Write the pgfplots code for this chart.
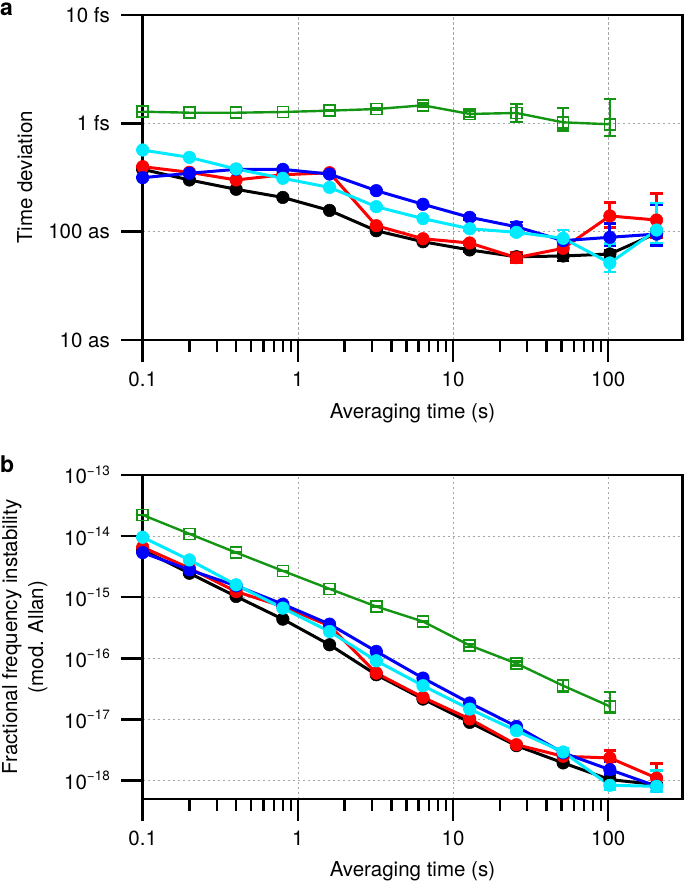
\documentclass[border=0pt]{standalone}
\usepackage{fontspec}
\setmainfont{TeX Gyre Heros}
\usepackage{pgfplots}
\usepackage{pgfplotstable}
\pgfplotsset{compat=1.18}

\definecolor{cblack}{RGB}{0,0,0}
\definecolor{cred}{RGB}{255,0,0}
\definecolor{cblue}{RGB}{0,0,255}
\definecolor{ccyan}{RGB}{0,235,255}
\definecolor{cgreen}{RGB}{20,150,20}

\newcommand\ep[1]{10\raisebox{8.5pt}{\fontsize{13.5}{13.5}\selectfont −#1}}

% ---------- panel a (values in attoseconds) ----------
\pgfplotstableread{
t v ep em
0.1 376 0 0
0.2 300 0 0
0.4 246 0 0
0.8 207 0 0
1.6 157 0 0
3.2 102 0 0
6.4 80.7 0 0
12.8 67.8 2 2
25.6 58.7 3 3
51.2 59.6 4 6
102.4 62.2 5 5
204.8 96.6 8 8
}\aBlack
\pgfplotstableread{
t v ep em
0.1 398 0 0
0.2 353 0 0
0.4 300 0 0
0.8 335 0 0
1.6 350 0 0
3.2 113.5 0 0
6.4 86 0 0
12.8 78.6 2 2
25.6 57.5 7 6
51.2 70.2 5 5
102.4 139.6 45 30
204.8 128 98 40
}\aRed
\pgfplotstableread{
t v ep em
0.1 315 0 0
0.2 346 0 0
0.4 376 0 0
0.8 376 0 0
1.6 340 0 0
3.2 239 0 0
6.4 179 0 0
12.8 135.6 6 6
25.6 111 12 10
51.2 82.6 21 10
102.4 88.7 31 15
204.8 95 81 20
}\aBlue
\pgfplotstableread{
t v ep em
0.1 567 0 0
0.2 485 0 0
0.4 379 0 0
0.8 311 0 0
1.6 256 0 0
3.2 170 0 0
6.4 132 0 0
12.8 106.4 3 3
25.6 98.6 5 5
51.2 86.8 17 17
102.4 51.4 27 9
204.8 103.5 80 25
}\aCyan
\pgfplotstableread{
t v ep em
0.1 1280 0 0
0.2 1253 0 0
0.4 1253 0 0
0.8 1272 0 0
1.6 1309 0 0
3.2 1355 30 30
6.4 1466 60 60
12.8 1220 89 82
25.6 1246 262 211
51.2 1021 356 166
102.4 980 694 216
}\aGreen

% ---------- panel b ----------
\pgfplotstableread{
t v ep em
0.1 5.95e-15 0 0
0.2 2.47e-15 0 0
0.4 1.03e-15 0 0
0.8 4.38e-16 0 0
1.6 1.67e-16 0 0
3.2 5.4e-17 0 0
6.4 2.16e-17 0 0
12.8 8.97e-18 0 0
25.6 3.73e-18 0 0
51.2 1.95e-18 0.15e-18 0.15e-18
102.4 1.04e-18 0.05e-18 0.05e-18
204.8 8.6e-19 0.05e-18 0.05e-18
}\bBlack
\pgfplotstableread{
t v ep em
0.1 6.58e-15 0 0
0.2 2.99e-15 0 0
0.4 1.24e-15 0 0
0.8 7.06e-16 0 0
1.6 3.41e-16 0 0
3.2 5.74e-17 0 0
6.4 2.30e-17 0 0
12.8 1.02e-17 0 0
25.6 3.87e-18 0 0
51.2 2.50e-18 0.1e-18 0.1e-18
102.4 2.35e-18 0.74e-18 0.3e-18
204.8 1.1e-18 0.8e-18 0.3e-18
}\bRed
\pgfplotstableread{
t v ep em
0.1 5.38e-15 0 0
0.2 2.80e-15 0 0
0.4 1.54e-15 0 0
0.8 7.7e-16 0 0
1.6 3.63e-16 0 0
3.2 1.30e-16 0 0
6.4 4.76e-17 0 0
12.8 1.86e-17 0 0
25.6 7.71e-18 0 0
51.2 2.84e-18 0.1e-18 0.1e-18
102.4 1.51e-18 0.5e-18 0.25e-18
204.8 8.1e-19 0.3e-18 0.15e-18
}\bBlue
\pgfplotstableread{
t v ep em
0.1 9.6e-15 0 0
0.2 4.08e-15 0 0
0.4 1.60e-15 0 0
0.8 6.64e-16 0 0
1.6 2.75e-16 0 0
3.2 9.14e-17 0 0
6.4 3.57e-17 0 0
12.8 1.48e-17 0 0
25.6 6.56e-18 0 0
51.2 2.94e-18 0.4e-18 0.4e-18
102.4 8.38e-19 0.12e-18 0.12e-18
204.8 8.07e-19 0.65e-18 0.14e-18
}\bCyan
\pgfplotstableread{
t v ep em
0.1 2.22e-14 0 0
0.2 1.09e-14 0 0
0.4 5.38e-15 0 0
0.8 2.70e-15 0 0
1.6 1.37e-15 0 0
3.2 7.06e-16 0 0
6.4 4.01e-16 0 0
12.8 1.63e-16 0.1e-16 0.1e-16
25.6 8.26e-17 0.6e-17 0.6e-17
51.2 3.57e-17 0.9e-17 0.69e-17
102.4 1.64e-17 1.17e-17 0.36e-17
}\bGreen

\pgfplotsset{
  ser/.style={line width=3pt, color=#1, mark=*, mark size=6.3pt,
    mark options={solid, fill=#1, draw=#1, line width=0.5pt},
    error bars/y dir=both, error bars/y explicit,
    error bars/error bar style={line width=2.8pt, solid, color=#1},
    error bars/error mark options={rotate=90, line width=2.8pt, mark size=6.3pt, color=#1}},
  gser/.style={line width=2.4pt, color=cgreen, mark=square, mark size=5.5pt,
    mark options={solid, draw=cgreen, line width=1.6pt},
    error bars/y dir=both, error bars/y explicit,
    error bars/error bar style={line width=2.4pt, solid, color=cgreen},
    error bars/error mark options={rotate=90, line width=2.4pt, mark size=6.3pt, color=cgreen}},
}

\begin{document}
\begin{tikzpicture}
\useasboundingbox (0pt,0pt) rectangle (685pt,883pt);

\begin{axis}[xmode=log, ymode=log, scale only axis,
    width=539.6pt, height=325pt,
    at={(142.7pt,543pt)}, anchor=south west,
    xmin=0.1, xmax=300,
    xtick={0.1,1,10,100}, xticklabels={0.1,1,10,100},
    yminorticks=false,
    tick align=outside, tick pos=left,
    major tick length=22pt, minor tick length=12pt,
    tick style={black, line width=2.4pt},
    axis line style={line width=2.7pt},
    grid=major,
    major grid style={dash pattern=on 2.5pt off 2.5pt, line width=0.7pt, color=black!35},
    tick label style={font=\fontsize{20.5}{24}\selectfont},
    xticklabel style={anchor=base, yshift=-24.7pt, inner sep=0pt},
    yticklabel style={anchor=east, xshift=-10.7pt, inner sep=0pt},
    clip=false,
  ymin=10, ymax=10000,
  ytick={10,100,1000,10000}, yticklabels={10 as,100 as,1 fs,10 fs}]
\addplot[ser=cblack] table[x=t,y=v,y error plus=ep,y error minus=em]{\aBlack};
\addplot[ser=cred] table[x=t,y=v,y error plus=ep,y error minus=em]{\aRed};
\addplot[ser=cblue] table[x=t,y=v,y error plus=ep,y error minus=em]{\aBlue};
\addplot[ser=ccyan] table[x=t,y=v,y error plus=ep,y error minus=em]{\aCyan};
\addplot[gser] table[x=t,y=v,y error plus=ep,y error minus=em]{\aGreen};
\end{axis}

\begin{axis}[xmode=log, ymode=log, scale only axis,
    width=539.6pt, height=324pt,
    at={(142.7pt,84pt)}, anchor=south west,
    xmin=0.1, xmax=300,
    xtick={0.1,1,10,100}, xticklabels={0.1,1,10,100},
    yminorticks=false,
    tick align=outside, tick pos=left,
    major tick length=22pt, minor tick length=12pt,
    tick style={black, line width=2.4pt},
    axis line style={line width=2.7pt},
    grid=major,
    major grid style={dash pattern=on 2.5pt off 2.5pt, line width=0.7pt, color=black!35},
    tick label style={font=\fontsize{20.5}{24}\selectfont},
    xticklabel style={anchor=base, yshift=-24.7pt, inner sep=0pt},
    yticklabel style={anchor=east, xshift=-10.7pt, inner sep=0pt},
    clip=false,
  ymin=5e-19, ymax=1e-13,
  ytick={1e-18,1e-17,1e-16,1e-15,1e-14,1e-13},
  yticklabels={\ep{18},\ep{17},\ep{16},\ep{15},\ep{14},\ep{13}}]
\addplot[ser=cblack] table[x=t,y=v,y error plus=ep,y error minus=em]{\bBlack};
\addplot[ser=cred] table[x=t,y=v,y error plus=ep,y error minus=em]{\bRed};
\addplot[ser=cblue] table[x=t,y=v,y error plus=ep,y error minus=em]{\bBlue};
\addplot[ser=ccyan] table[x=t,y=v,y error plus=ep,y error minus=em]{\bCyan};
\addplot[gser] table[x=t,y=v,y error plus=ep,y error minus=em]{\bGreen};
\end{axis}

\begin{scope}[every node/.style={inner sep=0pt, font=\fontsize{20.5}{24}\selectfont}]
\node[anchor=base west, font=\fontsize{23}{23}\selectfont\bfseries] at (0pt,867pt) {a};
\node[anchor=base west, font=\fontsize{23}{23}\selectfont\bfseries] at (0pt,410pt) {b};
\node[anchor=base, rotate=90] at (32pt,705.5pt) {Time deviation};
\node[anchor=base] at (412.5pt,464.7pt) {Averaging time (s)};
\node[anchor=base, rotate=90] at (17pt,246pt) {Fractional frequency instability};
\node[anchor=base, rotate=90] at (43pt,246pt) {(mod. Allan)};
\node[anchor=base] at (412.5pt,6pt) {Averaging time (s)};
\end{scope}
\end{tikzpicture}
\end{document}
